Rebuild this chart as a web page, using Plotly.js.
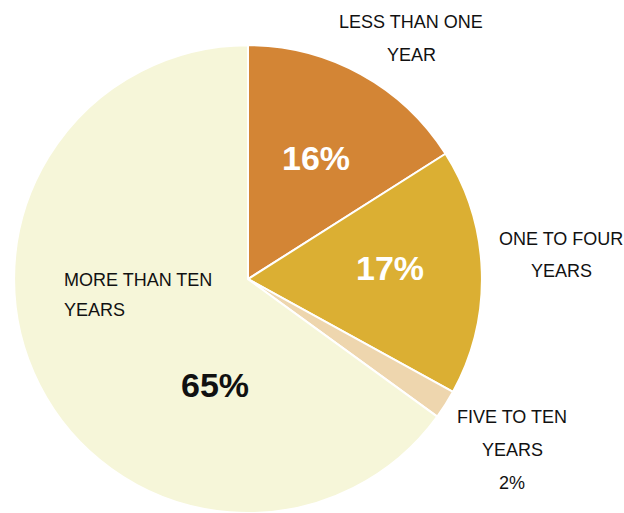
<!DOCTYPE html>
<html>
<head>
<meta charset="utf-8">
<script src="https://cdn.plot.ly/plotly-3.0.1.min.js"></script>
<style>html,body{margin:0;padding:0;background:#fff;}#chart{width:624px;height:513px;}</style>
</head>
<body>
<div id="chart"></div>
<script>
// Data
var categories = ['LESS THAN ONE YEAR', 'ONE TO FOUR YEARS', 'FIVE TO TEN YEARS', 'MORE THAN TEN YEARS'];
var labelLines = [['LESS THAN ONE', 'YEAR'], ['ONE TO FOUR', 'YEARS'], ['FIVE TO TEN', 'YEARS'], ['MORE THAN TEN', 'YEARS']];
var values = [16, 17, 2, 65];
var colors = ['#D38535', '#DBAF33', '#EED6AE', '#F6F6D9'];

var FONT = 'Liberation Sans, Arial, sans-serif';
var pct = values.map(function (v) { return v + '%'; });

var trace = {
  type: 'pie',
  labels: categories,
  values: values,
  sort: false,
  direction: 'clockwise',
  rotation: 0,
  textinfo: 'none',
  hoverinfo: 'label+percent',
  marker: { colors: colors, line: { color: '#ffffff', width: 2 } },
  domain: { x: [12 / 624, 484 / 624], y: [0, 0.912] },
  showlegend: false
};

// label placements (layout only)
var labelPos = [
  { x: 411, y: [22, 55], anchor: 'center' },
  { x: 561, y: [239, 271], anchor: 'center' },
  { x: 512, y: [417, 450], anchor: 'center' },
  { x: 62, y: [280, 310], anchor: 'left' }
];
var pctPos = [
  { x: 316, y: 158, color: '#ffffff', size: 34, bold: true },
  { x: 390, y: 268, color: '#ffffff', size: 34, bold: true },
  { x: 512, y: 483, color: '#111111', size: 18, bold: false },
  { x: 215, y: 385, color: '#111111', size: 34, bold: true }
];

var W = 624, H = 513;
var annotations = [];
labelLines.forEach(function (lines, i) {
  lines.forEach(function (line, j) {
    annotations.push({
      text: line, showarrow: false, xref: 'paper', yref: 'paper',
      x: labelPos[i].x / W, y: 1 - labelPos[i].y[j] / H,
      xanchor: labelPos[i].anchor, yanchor: 'middle',
      font: { family: FONT, size: 18, color: '#111111' }
    });
  });
});
pct.forEach(function (t, i) {
  var p = pctPos[i];
  annotations.push({
    text: p.bold ? '<b>' + t + '</b>' : t, showarrow: false, xref: 'paper', yref: 'paper',
    x: p.x / W, y: 1 - p.y / H, xanchor: 'center', yanchor: 'middle',
    font: { family: FONT, size: p.size, color: p.color }
  });
});

var layout = {
  width: 624, height: 513,
  margin: { l: 0, r: 0, t: 0, b: 0 },
  paper_bgcolor: '#ffffff',
  annotations: annotations
};

Plotly.newPlot('chart', [trace], layout, { displayModeBar: false, staticPlot: true });
</script>
</body>
</html>
